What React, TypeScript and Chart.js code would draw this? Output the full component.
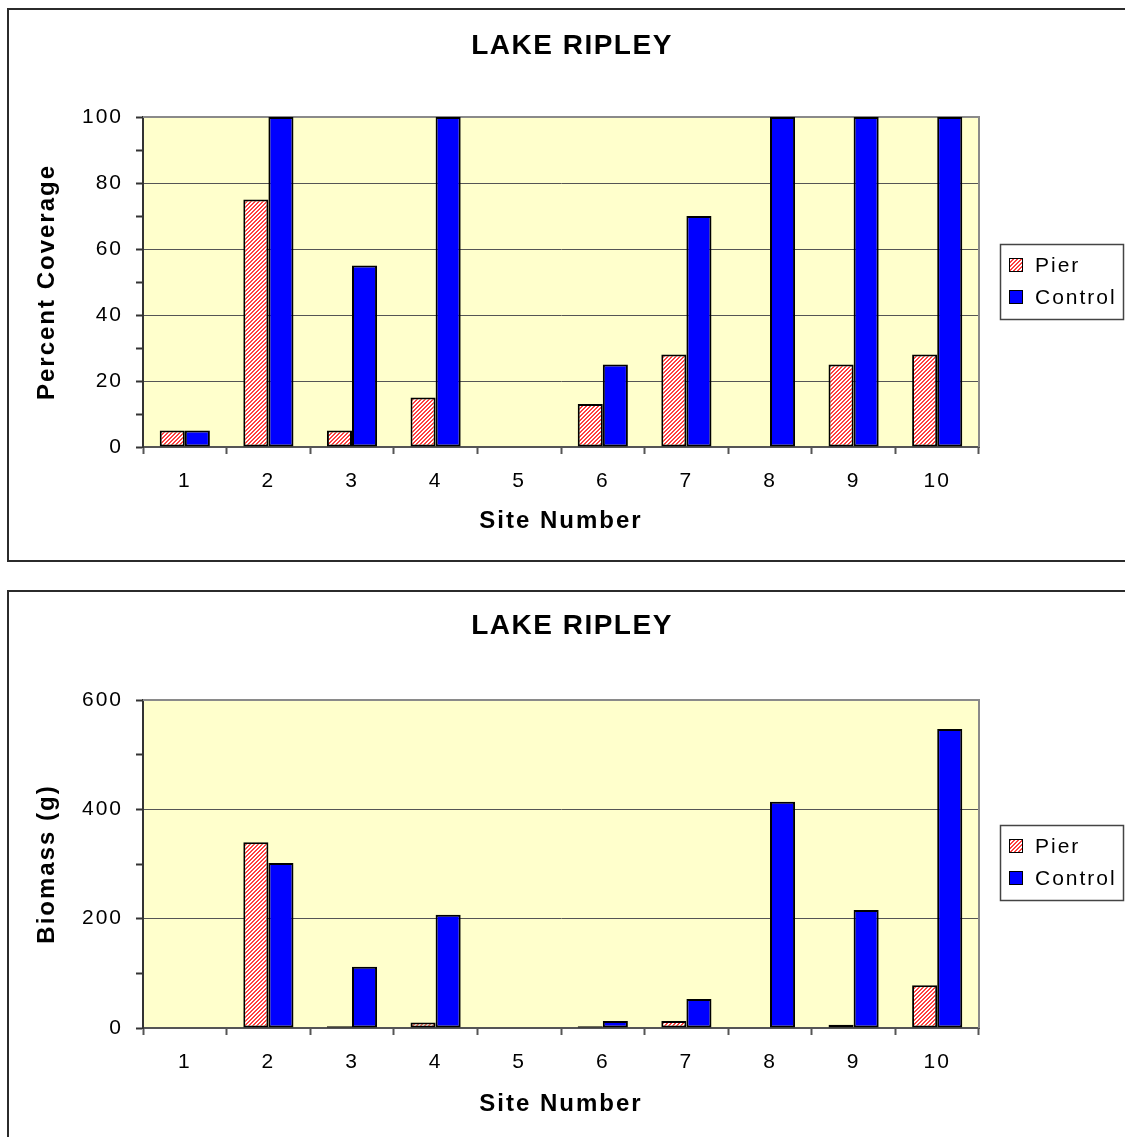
import React, { useEffect, useRef } from 'react';
import { Chart, registerables } from 'chart.js';

Chart.register(...registerables);

// ---------- data ----------
const sites = ['1', '2', '3', '4', '5', '6', '7', '8', '9', '10'];
const seriesNames = ['Pier', 'Control'];
const chartTitle = 'LAKE RIPLEY';
const xTitle = 'Site Number';

const coveragePier = [5, 75, 5, 15, 0, 13, 28, 0, 25, 28];
const coverageControl = [5, 100, 55, 100, 0, 25, 70, 100, 100, 100];
const coverageMajorTicks = [0, 20, 40, 60, 80, 100];

const biomassPier = [0, 340, 3, 10, 0, 3, 13, 0, 6, 78];
const biomassControl = [0, 302, 112, 207, 0, 13, 53, 414, 216, 547];
const biomassMajorTicks = [0, 200, 400, 600];

// ---------- styling / layout ----------
const FONT = "'Liberation Sans', Arial, Helvetica, sans-serif";
const W = 1125;
const PLOT_LEFT = 143;
const PLOT_RIGHT = 979;

function createHatch(ctx: CanvasRenderingContext2D): CanvasPattern | string {
  const c = document.createElement('canvas');
  c.width = 4;
  c.height = 4;
  const g = c.getContext('2d');
  if (!g) return '#ff9999';
  g.fillStyle = '#ffffff';
  g.fillRect(0, 0, 4, 4);
  g.fillStyle = '#ff4040';
  for (let y = 0; y < 4; y++) {
    for (let x = 0; x < 4; x++) {
      const k = (x + y) % 4;
      if (k === 0 || k === 3) g.fillRect(x, y, 1, 1);
    }
  }
  return ctx.createPattern(c, 'repeat') || '#ff9999';
}

const decor = {
  id: 'decor',
  beforeLayout(chart: any) {
    chart.ctx.letterSpacing = '2px';
  },
  beforeDraw(chart: any, _args: any, opts: any) {
    const ctx = chart.ctx as CanvasRenderingContext2D;
    const a = chart.chartArea;
    ctx.save();
    ctx.fillStyle = '#ffffff';
    ctx.fillRect(0, 0, chart.width, chart.height);
    ctx.strokeStyle = '#2b2b2b';
    ctx.lineWidth = 2;
    ctx.strokeRect(8, opts.boxTop, 1300, opts.boxHeight);
    ctx.fillStyle = '#FFFFCC';
    ctx.fillRect(a.left, a.top, a.right - a.left, a.bottom - a.top);
    ctx.restore();
    (ctx as any).letterSpacing = '2px';
  },
  beforeDatasetsDraw(chart: any) {
    const ctx = chart.ctx as CanvasRenderingContext2D;
    const a = chart.chartArea;
    ctx.save();
    ctx.strokeStyle = '#8a8a8a';
    ctx.lineWidth = 2;
    ctx.beginPath();
    ctx.moveTo(a.left, a.top);
    ctx.lineTo(a.right, a.top);
    ctx.lineTo(a.right, a.bottom);
    ctx.stroke();
    ctx.restore();
  },
  afterDraw(chart: any, _args: any, opts: any) {
    const ctx = chart.ctx as CanvasRenderingContext2D;
    ctx.save();
    // chart title
    (ctx as any).letterSpacing = '1.5px';
    ctx.font = `bold 28px ${FONT}`;
    ctx.fillStyle = '#000';
    ctx.textAlign = 'center';
    ctx.textBaseline = 'middle';
    ctx.fillText(opts.title, 572, opts.titleY);
    // legend
    const lt = opts.legendTop;
    ctx.fillStyle = '#ffffff';
    ctx.fillRect(1000, lt, 124, 75);
    ctx.strokeStyle = '#444';
    ctx.lineWidth = 1.5;
    ctx.strokeRect(1000.5, lt + 0.5, 1123 - 1000, 75);
    (ctx as any).letterSpacing = '2px';
    ctx.font = `21px ${FONT}`;
    chart.data.datasets.forEach((ds: any, i: number) => {
      const cy = lt + 21 + i * 32;
      ctx.fillStyle = ds.backgroundColor;
      ctx.fillRect(1009, cy - 7, 14, 14);
      ctx.strokeStyle = '#000';
      ctx.lineWidth = 1;
      ctx.strokeRect(1009.5, cy - 6.5, 13, 13);
      ctx.fillStyle = '#000';
      ctx.textAlign = 'left';
      ctx.textBaseline = 'middle';
      ctx.fillText(ds.label, 1035, cy + 1);
    });
    ctx.restore();
  },
};

type Panel = {
  yTitle: string;
  pier: number[];
  control: number[];
  majorTicks: number[];
  minorStep: number;
  top: number;
  height: number;
  plotTop: number;
  plotBottom: number;
  tickCenter: number;
  xTitleCenter: number;
  titleY: number;
  legendTop: number;
  boxTop: number;
  boxHeight: number;
};

function PanelChart({ p }: { p: Panel }) {
  const ref = useRef<HTMLCanvasElement>(null);
  useEffect(() => {
    const canvas = ref.current;
    if (!canvas) return;
    const ctx = canvas.getContext('2d') as CanvasRenderingContext2D;
    const hatch = createHatch(ctx);
    const yMax = p.majorTicks[p.majorTicks.length - 1];
    const tickFont = { family: FONT, size: 21 };
    const titleFont = { family: FONT, size: 24, weight: 'bold' as const };
    const tickLine = 25.2 / 2;
    const titleLine = 28.8 / 2;
    const chart = new Chart(canvas, {
      type: 'bar',
      data: {
        labels: sites,
        datasets: [
          {
            label: seriesNames[0],
            data: p.pier,
            backgroundColor: hatch as any,
            borderColor: '#000',
            borderWidth: 2,
            borderSkipped: false,
            categoryPercentage: 0.6,
            barPercentage: 1,
          },
          {
            label: seriesNames[1],
            data: p.control,
            backgroundColor: '#0000FF',
            borderColor: '#000',
            borderWidth: 2,
            borderSkipped: false,
            categoryPercentage: 0.6,
            barPercentage: 1,
          },
        ],
      },
      options: {
        responsive: false,
        animation: false,
        events: [],
        layout: { padding: { left: 0, right: W - PLOT_RIGHT, top: p.plotTop, bottom: 0 } },
        plugins: {
          legend: { display: false },
          title: { display: false },
          tooltip: { enabled: false },
          decor: {
            title: chartTitle,
            titleY: p.titleY,
            legendTop: p.legendTop,
            boxTop: p.boxTop,
            boxHeight: p.boxHeight,
          },
        } as any,
        scales: {
          x: {
            offset: true,
            afterFit: (s: any) => {
              s.height = p.height - p.plotBottom;
            },
            grid: {
              offset: true,
              drawOnChartArea: false,
              drawTicks: true,
              tickLength: 7,
              tickColor: '#555',
              tickWidth: 2,
            },
            border: { color: '#555', width: 2 },
            ticks: {
              color: '#000',
              font: tickFont,
              padding: p.tickCenter - p.plotBottom - 7 - tickLine,
              maxRotation: 0,
              autoSkip: false,
            },
            title: {
              display: true,
              text: xTitle,
              color: '#000',
              font: titleFont,
              padding: { top: 0, bottom: p.height - p.xTitleCenter - titleLine },
            },
          },
          y: {
            min: 0,
            max: yMax,
            afterFit: (s: any) => {
              s.width = PLOT_LEFT;
            },
            grid: {
              color: (c: any) => {
                const v = c.tick ? c.tick.value : -1;
                return v > 0 && v < yMax && p.majorTicks.includes(v) ? '#555' : 'rgba(0,0,0,0)';
              },
              lineWidth: 1,
              drawTicks: true,
              tickLength: 7,
              tickColor: '#333',
              tickWidth: 2,
            },
            border: { color: '#333', width: 2 },
            ticks: {
              stepSize: p.minorStep,
              autoSkip: false,
              color: '#000',
              font: tickFont,
              padding: 13,
              callback: (v: any) => (p.majorTicks.includes(Number(v)) ? String(v) : ''),
            },
            title: {
              display: true,
              text: p.yTitle,
              color: '#000',
              font: titleFont,
              padding: { top: 47 - titleLine, bottom: 0 },
            },
          },
        },
      },
      plugins: [decor as any],
    });
    return () => chart.destroy();
  }, [p]);
  return (
    <canvas
      ref={ref}
      width={W}
      height={p.height}
      style={{ position: 'absolute', left: 0, top: p.top, width: W, height: p.height, display: 'block' }}
    />
  );
}

const topPanel: Panel = {
  yTitle: 'Percent Coverage',
  pier: coveragePier,
  control: coverageControl,
  majorTicks: coverageMajorTicks,
  minorStep: 10,
  top: 0,
  height: 582,
  plotTop: 117,
  plotBottom: 447,
  tickCenter: 481,
  xTitleCenter: 521,
  titleY: 46,
  legendTop: 244,
  boxTop: 9,
  boxHeight: 552,
};

const bottomPanel: Panel = {
  yTitle: 'Biomass (g)',
  pier: biomassPier,
  control: biomassControl,
  majorTicks: biomassMajorTicks,
  minorStep: 100,
  top: 582,
  height: 555,
  plotTop: 118,
  plotBottom: 446,
  tickCenter: 480,
  xTitleCenter: 522,
  titleY: 44,
  legendTop: 243,
  boxTop: 9,
  boxHeight: 700,
};

export default function App() {
  return (
    <div
      style={{
        position: 'absolute',
        left: 0,
        top: 0,
        width: W,
        height: 1137,
        overflow: 'hidden',
        background: '#fff',
      }}
    >
      <PanelChart p={topPanel} />
      <PanelChart p={bottomPanel} />
    </div>
  );
}
